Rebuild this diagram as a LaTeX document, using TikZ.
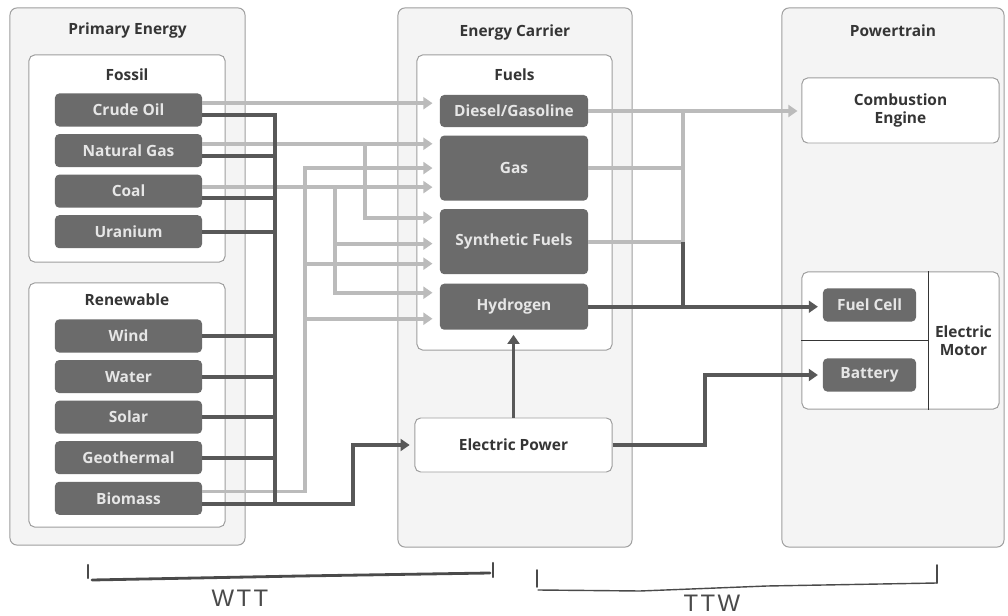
\documentclass[tikz,border=0pt]{standalone}
\usepackage{fontspec}
\setmainfont{Open Sans}
\newfontfamily\handfont[LetterSpace=10]{Liberation Sans}
\usetikzlibrary{arrows.meta,positioning}
\definecolor{WTWPanel}{HTML}{F4F4F4}
\definecolor{WTWEdge}{HTML}{9E9E9E}
\definecolor{WTWBox}{HTML}{6B6B6B}
\definecolor{WTWBoxText}{HTML}{E6E6E6}
\definecolor{WTWLight}{HTML}{BBBBBB}
\definecolor{WTWDark}{HTML}{585858}
\definecolor{WTWInk}{HTML}{353535}
\definecolor{WTWHand}{HTML}{4A4A4A}

\begin{document}
\begin{tikzpicture}[
  x=0.025cm, y=-0.025cm,
  panel/.style={draw=WTWEdge, fill=WTWPanel, rounded corners=5pt, line width=0.7pt, inner sep=0pt},
  groupbox/.style={draw=WTWEdge, fill=white, rounded corners=4pt, line width=0.7pt, inner sep=0pt},
  paneltitle/.style={font=\bfseries\fontsize{11}{13}\selectfont, text=WTWInk, align=center},
  srcbox/.style={fill=WTWBox, rounded corners=3pt, minimum width=3.675cm, minimum height=0.825cm, inner sep=0pt, font=\bfseries\fontsize{11}{13}\selectfont, text=WTWBoxText},
  fuelbox/.style={srcbox, minimum width=3.7cm},
  lightline/.style={draw=WTWLight, line width=2.8pt},
  darkline/.style={draw=WTWDark, line width=2.8pt},
  lightflow/.style={lightline, -{Triangle[length=6.5pt, width=8.5pt]}, shorten >=0.18cm},
  darkflow/.style={darkline, -{Triangle[length=6.5pt, width=8.5pt]}, shorten >=0.12cm},
  handink/.style={draw=WTWHand, line cap=round},
  handtext/.style={font=\handfont\fontsize{17}{18}\selectfont, text=WTWHand}
]
\useasboundingbox (0,0) rectangle (1008,616);

\node[panel, minimum width=5.875cm, minimum height=13.425cm] (primary) at (127.5,276.5) {};
\node[panel, minimum width=5.85cm, minimum height=13.475cm] (carrier) at (515,277.5) {};
\node[panel, minimum width=5.55cm, minimum height=13.475cm] (powertrain) at (893,277.5) {};
\node[paneltitle] at ([yshift=-0.575cm]primary.north) {Primary Energy};
\node[paneltitle] at ([yshift=-0.625cm]carrier.north) {Energy Carrier};
\node[paneltitle] at ([yshift=-0.575cm]powertrain.north) {Powertrain};

\node[groupbox, minimum width=4.9cm, minimum height=5.175cm] (fossil) at (127,158.5) {};
\node[groupbox, minimum width=4.9cm, minimum height=6.1cm] (renew) at (127,405) {};
\node[groupbox, minimum width=4.875cm, minimum height=7.375cm] (fuels) at (514.5,202.5) {};
\node[paneltitle] at ([yshift=-0.5cm]fossil.north) {Fossil};
\node[paneltitle] at ([yshift=-0.425cm]renew.north) {Renewable};
\node[paneltitle] at ([yshift=-0.5cm]fuels.north) {Fuels};

\node[srcbox] (crude) at (128.5,110) {Crude Oil};
\node[srcbox, below=0.175cm of crude] (natgas) {Natural Gas};
\node[srcbox, below=0.175cm of natgas] (coal) {Coal};
\node[srcbox, below=0.175cm of coal] (uranium) {Uranium};
\node[srcbox] (wind) at (128.5,336) {Wind};
\node[srcbox, below=0.175cm of wind] (water) {Water};
\node[srcbox, below=0.175cm of water] (solar) {Solar};
\node[srcbox, below=0.175cm of solar] (geo) {Geothermal};
\node[srcbox, below=0.175cm of geo] (biomass) {Biomass};

\node[fuelbox, minimum height=0.8cm] (diesel) at (514,111) {Diesel/Gasoline};
\node[fuelbox, minimum height=1.625cm, below=0.2cm of diesel] (gas) {Gas};
\node[fuelbox, minimum height=1.625cm, below=0.2cm of gas] (synth) {Synthetic Fuels};
\node[fuelbox, minimum height=1.15cm, below=0.225cm of synth] (hydro) {Hydrogen};
\node[groupbox, minimum width=4.925cm, minimum height=1.35cm, font=\bfseries\fontsize{11}{13}\selectfont, text=WTWInk] (elec) at (513.5,445) {Electric Power};

\node[groupbox, minimum width=4.925cm, minimum height=1.625cm, align=center, font=\bfseries\fontsize{11}{13}\selectfont, text=WTWInk] (comb) at (900.5,110.5) {Combustion\\Engine};
\node[groupbox, minimum width=4.925cm, minimum height=3.425cm] (emotor) at (900.5,340.5) {};
\node[srcbox, minimum width=2.325cm] (fuelcell) at (869.5,305) {Fuel Cell};
\node[srcbox, minimum width=2.325cm] (battery) at (869.5,375) {Battery};
\node[paneltitle] (motorlabel) at (963.5,340.5) {Electric\\Motor};
\coordinate (divX) at (928,0);
\draw[draw=WTWInk, line width=0.5pt] (emotor.north -| divX) -- (emotor.south -| divX);
\draw[draw=WTWInk, line width=0.5pt] (emotor.west) -- (emotor.west -| divX);

\coordinate (busX) at (275,0);
\coordinate (bioX) at (305,0);
\coordinate (coalX) at (335,0);
\coordinate (elecX) at (353,0);
\coordinate (ngX) at (365,0);
\coordinate (joinX) at (683,0);
\coordinate (battX) at (705,0);

\coordinate (crudeL) at ([yshift=0.17cm]crude.east);
\coordinate (crudeD) at ([yshift=-0.13cm]crude.east);
\coordinate (natgasL) at ([yshift=0.17cm]natgas.east);
\coordinate (natgasD) at ([yshift=-0.13cm]natgas.east);
\coordinate (coalL) at ([yshift=0.1cm]coal.east);
\coordinate (coalD) at ([yshift=-0.18cm]coal.east);
\coordinate (bioL) at ([yshift=0.17cm]biomass.east);
\coordinate (bioD) at ([yshift=-0.15cm]biomass.east);

\coordinate (synIn1) at ([yshift=0.6cm]synth.west);
\coordinate (synIn2) at ([yshift=-0.05cm]synth.west);
\coordinate (synIn3) at ([yshift=-0.55cm]synth.west);
\coordinate (hydIn1) at ([yshift=0.35cm]hydro.west);
\coordinate (hydIn2) at ([yshift=-0.3cm]hydro.west);

\draw[lightflow] (crudeL) -- (crudeL -| diesel.west);
\draw[lightflow] (natgasL) -- (natgasL -| gas.west);
\draw[lightflow] (natgasL -| ngX) |- (synIn1);
\draw[lightflow] (coalL) -- (coalL -| gas.west);
\draw[lightflow] (coalL -| coalX) |- (synIn2);
\draw[lightflow] (coalL -| coalX) |- (hydIn1);
\draw[lightflow] (bioL) -| (bioX |- gas.west) -- (gas.west);
\draw[lightflow] (bioX |- synIn3) -- (synIn3);
\draw[lightflow] (bioX |- hydIn2) -- (hydIn2);

\draw[darkline] (crudeD) -| (busX |- bioD);
\foreach \src in {natgasD, coalD, uranium.east, wind.east, water.east, solar.east, geo.east}
  \draw[darkline] (\src) -- (\src -| busX);
\draw[darkflow] (bioD) -- (bioD -| elecX) |- (elec.west);

\draw[lightline] (gas.east) -- (gas.east -| joinX);
\draw[lightline] (synth.east) -- (synth.east -| joinX);
\draw[lightline] (synth.east -| joinX) -- (diesel.east -| joinX);
\draw[lightflow, shorten >=0.1cm] (diesel.east) -- (diesel.east -| comb.west);
\draw[darkline] (hydro.east -| joinX) -- (synth.east -| joinX);
\draw[darkflow] (hydro.east) -- (hydro.east -| fuelcell.west);
\draw[darkflow] (elec.east) -- (elec.east -| battX) |- (battery.west);
\draw[darkflow] (elec.north) -- (elec.north |- hydro.south);

\draw[handink, line width=1.6pt] (88,565) -- (88,578);
\draw[handink, line width=2pt] (92,580) -- (300,576) -- (490,573);
\draw[handink, line width=1.6pt] (493,563) -- (493,577);
\node[handtext] (wtt) at (240,598) {WTT};
\draw[handink, line width=1.3pt] (537,570) -- (537,587);
\draw[handink, line width=1pt] (538,590) -- (640,591) -- (767,586) -- (937,583);
\draw[handink, line width=1.3pt] (937,565) -- (937,583);
\node[handtext] (ttw) at (712,603) {TTW};
\end{tikzpicture}
\end{document}
